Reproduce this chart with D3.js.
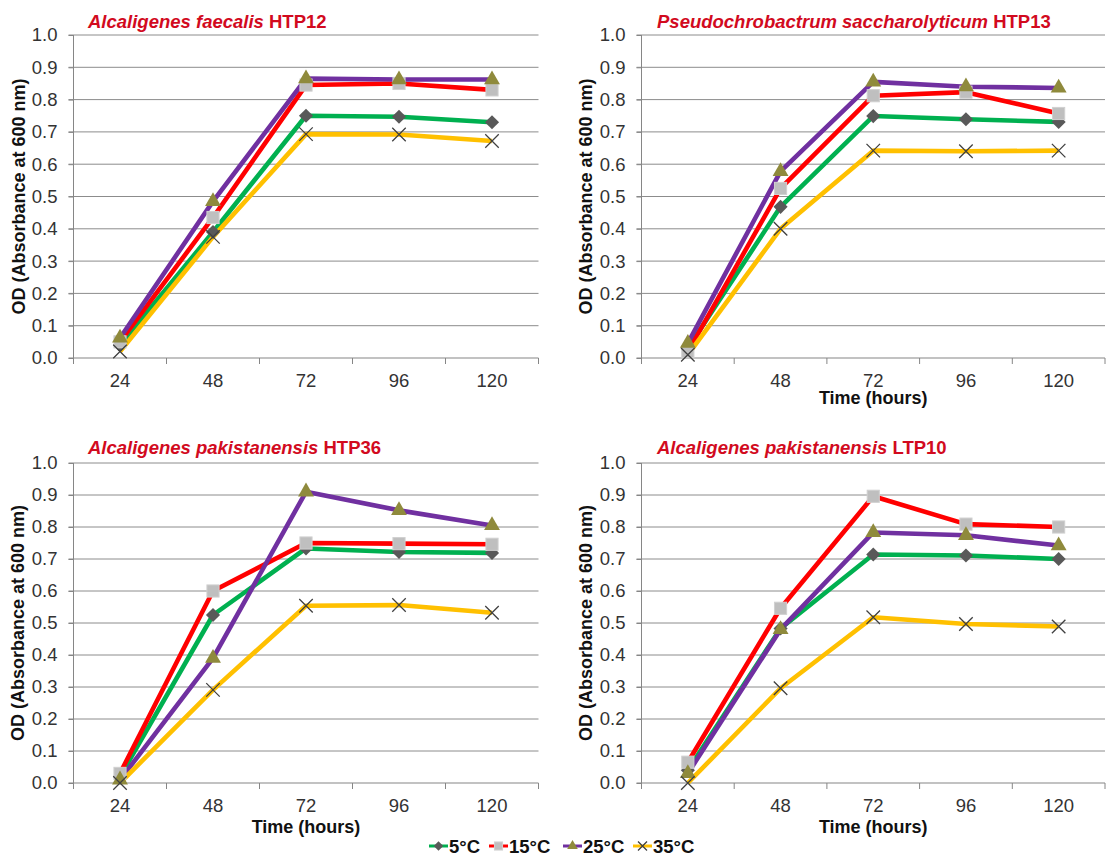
<!DOCTYPE html>
<html>
<head>
<meta charset="utf-8">
<script src="https://cdn.jsdelivr.net/npm/d3@7"></script>
<style>
  body { margin: 0; background: #fff; }
  svg { display: block; font-family: "Liberation Sans", Arial, sans-serif; }
</style>
</head>
<body>
<div id="container"></div>
<script>
// data
let hours = ["24", "48", "72", "96", "120"];
let temps = ["5°C", "15°C", "25°C", "35°C"];
let yTicks = [0, 0.1, 0.2, 0.3, 0.4, 0.5, 0.6, 0.7, 0.8, 0.9, 1.0];

// one row per temperature: 5, 15, 25, 35 °C
let htp12 = [
  [0.04, 0.39, 0.75, 0.747, 0.73],
  [0.05, 0.435, 0.845, 0.85, 0.83],
  [0.062, 0.485, 0.865, 0.862, 0.862],
  [0.02, 0.375, 0.693, 0.692, 0.672]
];
let htp13 = [
  [0.03, 0.468, 0.749, 0.739, 0.731],
  [0.02, 0.525, 0.812, 0.823, 0.757],
  [0.046, 0.578, 0.855, 0.84, 0.836],
  [0.01, 0.40, 0.642, 0.64, 0.642]
];
let htp36 = [
  [0.02, 0.525, 0.733, 0.722, 0.719],
  [0.03, 0.60, 0.75, 0.748, 0.746],
  [0.01, 0.39, 0.91, 0.852, 0.805],
  [0.0, 0.291, 0.554, 0.556, 0.532]
];
let ltp10 = [
  [0.04, 0.483, 0.714, 0.711, 0.70],
  [0.065, 0.546, 0.896, 0.809, 0.80],
  [0.03, 0.48, 0.783, 0.774, 0.742],
  [0.0, 0.296, 0.518, 0.497, 0.489]
];

let lineColors = ["#00b050", "#ff0000", "#7030a0", "#ffc000"];

let w = 1106;
let h = 857;
let viz = d3.select("#container")
  .append("svg")
    .attr("width", w)
    .attr("height", h)
;

// marker for each temperature
function drawMarker(g, k, x, y, s) {
  if (k == 0) {
    g.append("rect")
      .attr("x", -s * 0.37).attr("y", -s * 0.37)
      .attr("width", s * 0.74).attr("height", s * 0.74)
      .attr("transform", "translate(" + x + "," + y + ") rotate(45)")
      .attr("fill", "#595959");
  } else if (k == 1) {
    g.append("rect")
      .attr("x", x - s * 0.45).attr("y", y - s * 0.45)
      .attr("width", s * 0.9).attr("height", s * 0.9)
      .attr("fill", "#bfbfbf")
      .attr("stroke", "#d0d0d0").attr("stroke-width", 1);
  } else if (k == 2) {
    g.append("path")
      .attr("d", d3.symbol().type(d3.symbolTriangle).size(s * s * 0.6)())
      .attr("transform", "translate(" + x + "," + y + ")")
      .attr("fill", "#8f8a3c");
  } else {
    let r = s * 0.5;
    g.append("path")
      .attr("d", "M" + (x - r) + "," + (y - r) + "L" + (x + r) + "," + (y + r) +
                 "M" + (x - r) + "," + (y + r) + "L" + (x + r) + "," + (y - r))
      .attr("stroke", "#404040").attr("stroke-width", 1.3).attr("fill", "none");
  }
}

let panels = [
  { data: htp12, italic: "Alcaligenes faecalis", strain: " HTP12", left: 73.5, right: 538.5, top: 35, bottom: 358, tx: 88, ty: 21, ylx: 19, xty: 398, xtitle: false },
  { data: htp13, italic: "Pseudochrobactrum saccharolyticum", strain: " HTP13", left: 641.5, right: 1105, top: 35, bottom: 358, tx: 657, ty: 21, ylx: 586, xty: 398, xtitle: true },
  { data: htp36, italic: "Alcaligenes pakistanensis", strain: " HTP36", left: 73.5, right: 538.5, top: 463, bottom: 783, tx: 88, ty: 447, ylx: 18, xty: 827, xtitle: true },
  { data: ltp10, italic: "Alcaligenes pakistanensis", strain: " LTP10", left: 641.5, right: 1105, top: 463, bottom: 783, tx: 657, ty: 447, ylx: 586, xty: 827, xtitle: true }
];

panels.forEach(function(p) {
  let g = viz.append("g");

  let x = d3.scaleBand().domain(hours).range([p.left, p.right]);
  let y = d3.scaleLinear().domain([0, 1]).range([p.bottom, p.top]);

  // gridlines
  g.selectAll(".grid").data(yTicks.slice(1)).enter()
    .append("line")
      .attr("x1", p.left - 5).attr("x2", p.right)
      .attr("y1", function(d) { return y(d); })
      .attr("y2", function(d) { return y(d); })
      .attr("stroke", "#8c8c8c").attr("stroke-width", 1);

  // y axis
  let yAxis = d3.axisLeft(y).tickValues(yTicks).tickFormat(d3.format(".1f")).tickSize(5).tickPadding(11);
  let ya = g.append("g").attr("transform", "translate(" + p.left + ",0)").call(yAxis);
  ya.select(".domain").attr("stroke", "#868686").attr("d", "M-5," + p.bottom + "H0V" + p.top);
  ya.selectAll(".tick line").attr("stroke", "#868686");
  ya.selectAll("text").attr("font-size", 18.5).attr("fill", "#333")
    .attr("font-family", "Liberation Sans, Arial, sans-serif");

  // x axis, ticks between categories
  let xa = g.append("g").attr("transform", "translate(0," + p.bottom + ")");
  xa.append("line").attr("x1", p.left).attr("x2", p.right)
    .attr("stroke", "#868686").attr("stroke-width", 1.2);
  let bounds = hours.map(function(d) { return x(d); }).concat([p.right]);
  xa.selectAll(".xt").data(bounds).enter()
    .append("line")
      .attr("x1", function(d) { return d; }).attr("x2", function(d) { return d; })
      .attr("y1", 0).attr("y2", 6)
      .attr("stroke", "#868686");
  xa.selectAll(".xl").data(hours).enter()
    .append("text")
      .attr("x", function(d) { return x(d) + x.bandwidth() / 2; })
      .attr("y", 22).attr("dy", "0.36em")
      .attr("text-anchor", "middle")
      .attr("font-size", 18.5).attr("fill", "#333")
      .text(function(d) { return d; });

  // series lines
  let lineMaker = d3.line()
    .x(function(d, i) { return x(hours[i]) + x.bandwidth() / 2; })
    .y(function(d) { return y(d); });

  p.data.forEach(function(vals, k) {
    g.append("path")
      .attr("d", lineMaker(vals))
      .attr("fill", "none")
      .attr("stroke", lineColors[k])
      .attr("stroke-width", 4.6)
      .attr("stroke-linejoin", "round");
  });

  p.data.forEach(function(vals, k) {
    vals.forEach(function(v, i) {
      drawMarker(g, k, x(hours[i]) + x.bandwidth() / 2, y(v), 13.5);
    });
  });

  // titles
  let t = g.append("text").attr("x", p.tx).attr("y", p.ty).attr("dy", "0.36em")
    .attr("font-size", 18.5).attr("font-weight", "bold").attr("fill", "#d20a1e");
  t.append("tspan").attr("font-style", "italic").text(p.italic);
  t.append("tspan").text(p.strain);

  g.append("text")
    .attr("transform", "translate(" + p.ylx + "," + ((p.top + p.bottom) / 2) + ") rotate(-90)")
    .attr("text-anchor", "middle").attr("dy", "0.35em")
    .attr("font-size", 18).attr("font-weight", "bold").attr("fill", "#111")
    .text("OD (Absorbance at 600 nm)");

  if (p.xtitle) {
    g.append("text")
      .attr("x", (p.left + p.right) / 2).attr("y", p.xty).attr("dy", "0.36em")
      .attr("text-anchor", "middle")
      .attr("font-size", 18).attr("font-weight", "bold").attr("fill", "#111")
      .text("Time (hours)");
  }
});

// legend
let legendX = [429, 489, 563, 633];
let legend = viz.append("g");
temps.forEach(function(name, k) {
  let lx = legendX[k];
  let ly = 846;
  legend.append("line").attr("x1", lx).attr("x2", lx + 19).attr("y1", ly).attr("y2", ly)
    .attr("stroke", lineColors[k]).attr("stroke-width", 3);
  drawMarker(legend, k, lx + 9.5, ly, 9);
  legend.append("text").attr("x", lx + 20).attr("y", ly).attr("dy", "0.36em")
    .attr("font-size", 18.5).attr("font-weight", "bold").attr("fill", "#111")
    .text(name);
});
</script>
</body>
</html>
